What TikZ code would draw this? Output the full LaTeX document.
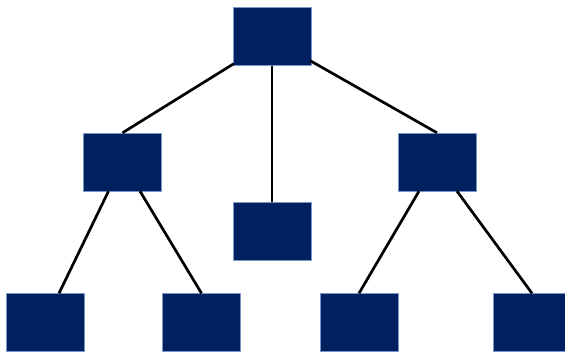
\documentclass[tikz,border=0pt]{standalone}
\usetikzlibrary{calc}
\definecolor{navy}{RGB}{0,32,96}
\definecolor{edgeblue}{RGB}{120,150,200}
\begin{document}
\begin{tikzpicture}[x=1pt,y=-1pt,
  box/.style={rectangle, fill=navy, draw=edgeblue, line width=0.4pt, minimum width=78pt, minimum height=58pt, inner sep=0pt},
  link/.style={draw=black, line width=2.7pt}]
\useasboundingbox (0,0) rectangle (565,353);
\node[box] (top) at (272,36.5) {};
\node[box] (ml) at (122.5,162) {};
\node[box] (c) at (272,231.5) {};
\node[box] (mr) at (437,162) {};
\node[box] (b1) at (45,322.5) {};
\node[box] (b2) at (201.5,322.5) {};
\node[box] (b3) at (359,322.5) {};
\node[box] (b4) at (532,322.5) {};
\draw[link] ([shift={(1,-2)}]top.south west) -- (ml.north);
\draw[link] ([shift={(-1,-5)}]top.south east) -- (mr.north);
\draw[link] (top.south) -- (c.north);
\draw[link] ([xshift=-14pt]ml.south) -- ([xshift=14pt]b1.north);
\draw[link] ([xshift=17.5pt]ml.south) -- (b2.north);
\draw[link] ([xshift=-18pt]mr.south) -- (b3.north);
\draw[link] ([xshift=20pt]mr.south) -- (b4.north);
\end{tikzpicture}
\end{document}
